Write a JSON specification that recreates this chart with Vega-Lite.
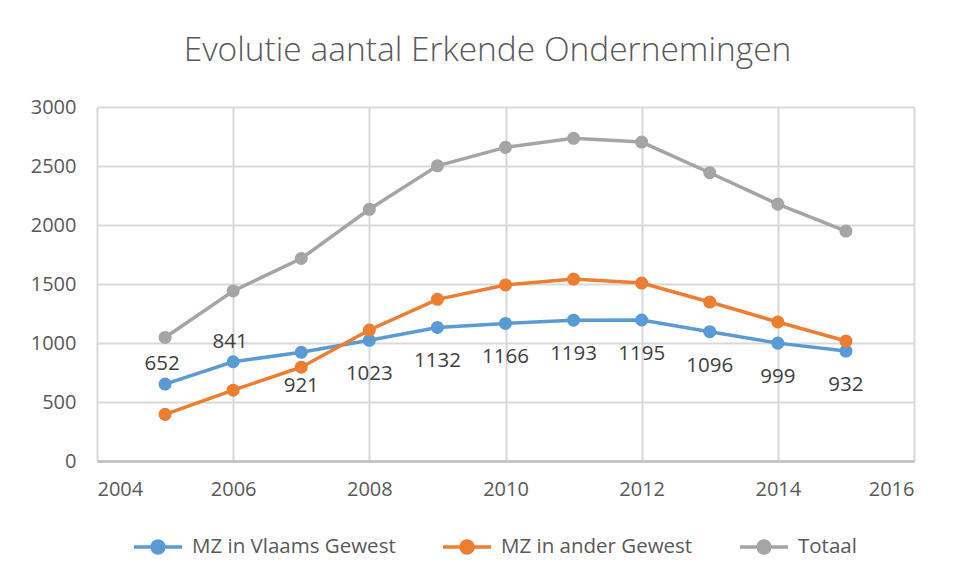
{
  "$schema": "https://vega.github.io/schema/vega-lite/v6.json",
  "width": 817,
  "height": 354,
  "autosize": {"type": "none"},
  "padding": {"left": 97, "top": 107, "right": 43, "bottom": 117},
  "background": "white",
  "title": {
    "text": "Evolutie aantal Erkende Ondernemingen",
    "font": "Open Sans",
    "fontSize": 33.5,
    "fontWeight": 300,
    "color": "#595959",
    "anchor": "middle",
    "dx": -18,
    "offset": 3,
    "baseline": "alphabetic"
  },
  "data": {
    "values": [
      {"year": 2005, "series": "MZ in Vlaams Gewest", "value": 652},
      {"year": 2006, "series": "MZ in Vlaams Gewest", "value": 841},
      {"year": 2007, "series": "MZ in Vlaams Gewest", "value": 921},
      {"year": 2008, "series": "MZ in Vlaams Gewest", "value": 1023},
      {"year": 2009, "series": "MZ in Vlaams Gewest", "value": 1132},
      {"year": 2010, "series": "MZ in Vlaams Gewest", "value": 1166},
      {"year": 2011, "series": "MZ in Vlaams Gewest", "value": 1193},
      {"year": 2012, "series": "MZ in Vlaams Gewest", "value": 1195},
      {"year": 2013, "series": "MZ in Vlaams Gewest", "value": 1096},
      {"year": 2014, "series": "MZ in Vlaams Gewest", "value": 999},
      {"year": 2015, "series": "MZ in Vlaams Gewest", "value": 932},
      {"year": 2005, "series": "MZ in ander Gewest", "value": 395},
      {"year": 2006, "series": "MZ in ander Gewest", "value": 600},
      {"year": 2007, "series": "MZ in ander Gewest", "value": 795},
      {"year": 2008, "series": "MZ in ander Gewest", "value": 1110},
      {"year": 2009, "series": "MZ in ander Gewest", "value": 1370},
      {"year": 2010, "series": "MZ in ander Gewest", "value": 1492},
      {"year": 2011, "series": "MZ in ander Gewest", "value": 1542},
      {"year": 2012, "series": "MZ in ander Gewest", "value": 1508},
      {"year": 2013, "series": "MZ in ander Gewest", "value": 1347},
      {"year": 2014, "series": "MZ in ander Gewest", "value": 1178},
      {"year": 2015, "series": "MZ in ander Gewest", "value": 1017},
      {"year": 2005, "series": "Totaal", "value": 1047},
      {"year": 2006, "series": "Totaal", "value": 1441},
      {"year": 2007, "series": "Totaal", "value": 1716},
      {"year": 2008, "series": "Totaal", "value": 2133},
      {"year": 2009, "series": "Totaal", "value": 2502},
      {"year": 2010, "series": "Totaal", "value": 2658},
      {"year": 2011, "series": "Totaal", "value": 2735},
      {"year": 2012, "series": "Totaal", "value": 2703},
      {"year": 2013, "series": "Totaal", "value": 2443},
      {"year": 2014, "series": "Totaal", "value": 2177},
      {"year": 2015, "series": "Totaal", "value": 1949}
    ]
  },
  "encoding": {
    "x": {
      "field": "year",
      "type": "quantitative",
      "scale": {"domain": [2004, 2016], "nice": false, "zero": false},
      "axis": {
        "values": [2004, 2006, 2008, 2010, 2012, 2014, 2016],
        "format": "d",
        "title": null,
        "labelPadding": 18,
        "domain": true,
        "domainColor": "#BFBFBF",
        "domainWidth": 2.5
      }
    },
    "y": {
      "field": "value",
      "type": "quantitative",
      "scale": {"domain": [0, 3000], "nice": false},
      "axis": {
        "values": [0, 500, 1000, 1500, 2000, 2500, 3000],
        "format": "d",
        "title": null,
        "labelPadding": 21,
        "domain": false
      }
    }
  },
  "layer": [
    {
      "mark": {"type": "rule", "color": "#BFBFBF", "strokeWidth": 2.5},
      "data": {"values": [{"year": 2004}]},
      "encoding": {"x": {"field": "year", "type": "quantitative"}, "y": {"datum": 0}, "y2": {"datum": 3000}}
    },
    {
      "mark": {"type": "line", "strokeWidth": 3.5},
      "encoding": {
        "color": {
          "field": "series",
          "type": "nominal",
          "scale": {
            "domain": ["MZ in Vlaams Gewest", "MZ in ander Gewest", "Totaal"],
            "range": ["#5B9BD5", "#ED7D31", "#A5A5A5"]
          },
          "legend": {
            "orient": "none",
            "legendX": 35,
            "legendY": 414,
            "direction": "horizontal",
            "title": null,
            "symbolType": "M-1,0H1M-0.25,0A0.25,0.25,0,1,0,0.25,0A0.25,0.25,0,1,0,-0.25,0Z",
            "symbolSize": 2304,
            "symbolStrokeWidth": 3.5,
            "labelFont": "Open Sans",
            "labelFontSize": 20.5,
            "labelColor": "#595959",
            "labelOffset": 8,
            "labelLimit": 400,
            "columnPadding": 40,
            "encode": {
              "symbols": {
                "update": {
                  "fill": {"scale": "color", "field": "value"},
                  "stroke": {"scale": "color", "field": "value"},
                  "opacity": {"value": 1}
                }
              }
            }
          }
        }
      }
    },
    {
      "mark": {"type": "point", "filled": true, "size": 170, "opacity": 1},
      "encoding": {
        "color": {"field": "series", "type": "nominal"}
      }
    },
    {
      "transform": [{"filter": "datum.series == 'MZ in Vlaams Gewest' && datum.year <= 2006"}],
      "mark": {"type": "text", "dy": -20, "dx": -3, "font": "Open Sans", "fontSize": 20.5, "color": "#404040"},
      "encoding": {"text": {"field": "value", "type": "quantitative"}}
    },
    {
      "transform": [{"filter": "datum.series == 'MZ in Vlaams Gewest' && datum.year > 2006"}],
      "mark": {"type": "text", "dy": 34, "font": "Open Sans", "fontSize": 20.5, "color": "#404040"},
      "encoding": {"text": {"field": "value", "type": "quantitative"}}
    }
  ],
  "config": {
    "view": {"stroke": null},
    "axis": {
      "labelFont": "Open Sans",
      "labelFontSize": 20,
      "labelColor": "#595959",
      "gridColor": "#D9D9D9",
      "gridWidth": 2,
      "ticks": false
    }
  }
}
